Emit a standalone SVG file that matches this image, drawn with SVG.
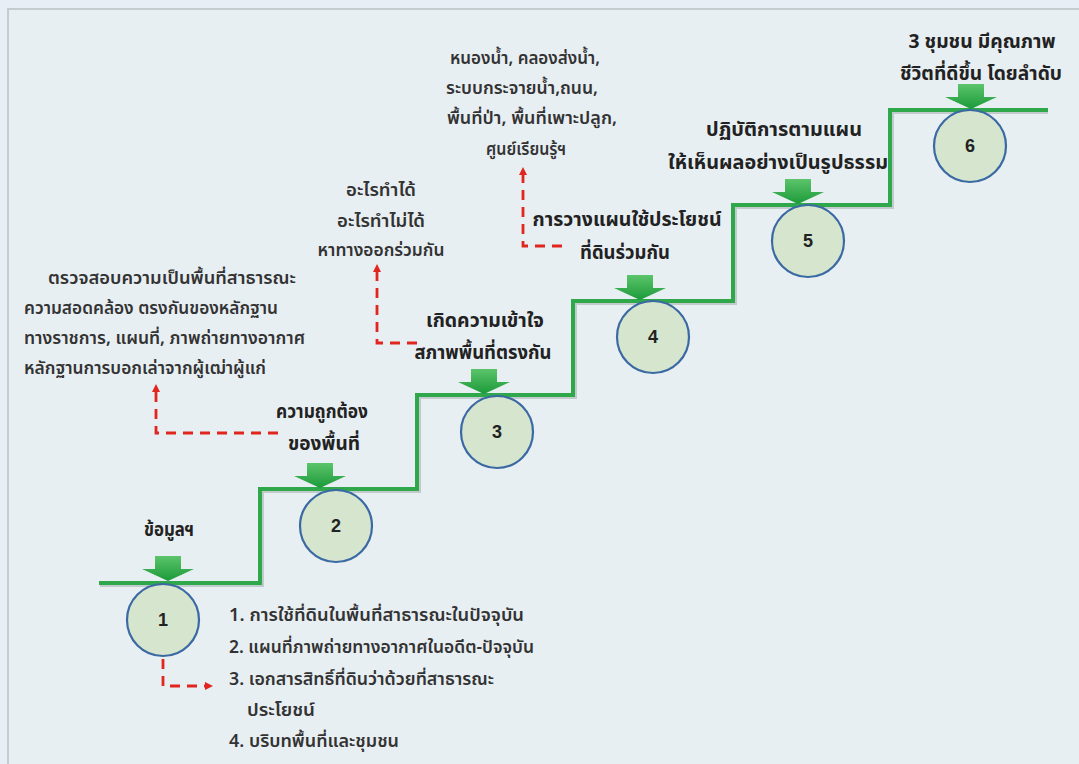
<svg xmlns="http://www.w3.org/2000/svg" xmlns:xlink="http://www.w3.org/1999/xlink" width="1079" height="764" viewBox="0 0 1079 764">
<style>
text{font-family:"Noto Sans Thai","Noto Sans","DejaVu Sans",sans-serif}
.lbl{font-weight:bold;font-size:19px;fill:#222;text-anchor:middle}
.ann{font-weight:600;font-size:17px;fill:#333}
.mid{text-anchor:middle}
.num{font-family:"Liberation Sans",Arial,sans-serif;font-weight:bold;font-size:18px;fill:#222;text-anchor:middle}
.circ{fill:#d6e5cd;stroke:#3a69a3;stroke-width:2.2}
.step{fill:none;stroke:#2fa84b;stroke-width:4}
.stepsh{fill:none;stroke:#7a8a80;stroke-opacity:0.35;stroke-width:4}
.dash{fill:none;stroke:#e0261f;stroke-width:2.8;stroke-dasharray:10 7}
.garr{fill:url(#gg)}
</style>
<defs>
<linearGradient id="gg" x1="0" y1="0" x2="0" y2="1">
<stop offset="0" stop-color="#5cc46a"/>
<stop offset="1" stop-color="#1b9a3a"/>
</linearGradient>
<path id="ga" d="M-13,-25 H13 V-12 H26 L0,0 L-26,-12 H-13 Z"/>
<marker id="ra" markerUnits="userSpaceOnUse" markerWidth="10" markerHeight="10" refX="0" refY="4" orient="auto">
<path d="M0,0 L8,4 L0,8 Z" fill="#e0261f"/>
</marker>
</defs>
<rect width="1079" height="764" fill="#e8eef6"/>
<rect x="8" y="9" width="1080" height="760" fill="#e8eff3" stroke="#c5cbcf" stroke-width="2"/>

<g id="steps">
<path class="stepsh" d="M100,585 H262 V491 H419 V397 H575 V303 H735 V207 H892 V112 H1048"/>
<path class="step" d="M99,583 H260 V489 H417 V395 H573 V301 H733 V205 H890 V110 H1048"/>
</g>

<g id="connectors">
<path class="dash" d="M163,659 V686 H205" marker-end="url(#ra)"/>
<path class="dash" d="M278,433 H156 V392" marker-end="url(#ra)"/>
<path class="dash" d="M417,343 H377 V272" marker-end="url(#ra)"/>
<path class="dash" d="M562,246 H523 V175" marker-end="url(#ra)"/>
</g>

<g id="node1">
<circle class="circ" cx="163" cy="620" r="36"/>
<text class="num" x="163" y="626">1</text>
<use xlink:href="#ga" href="#ga" class="garr" x="168" y="581"/>
<text class="lbl" x="169" y="536" textLength="50" lengthAdjust="spacingAndGlyphs">ข้อมูลฯ</text>
</g>
<g id="node2">
<circle class="circ" cx="336" cy="526" r="36"/>
<text class="num" x="336" y="532">2</text>
<use xlink:href="#ga" href="#ga" class="garr" x="320" y="488"/>
<text class="lbl" x="322" y="418" textLength="92" lengthAdjust="spacingAndGlyphs">ความถูกต้อง</text>
<text class="lbl" x="324" y="450" textLength="72" lengthAdjust="spacingAndGlyphs">ของพื้นที่</text>
</g>
<g id="node3">
<circle class="circ" cx="497" cy="432" r="36"/>
<text class="num" x="497" y="438">3</text>
<use xlink:href="#ga" href="#ga" class="garr" x="484" y="394"/>
<text class="lbl" x="485" y="327" textLength="118" lengthAdjust="spacingAndGlyphs">เกิดความเข้าใจ</text>
<text class="lbl" x="483" y="359" textLength="137" lengthAdjust="spacingAndGlyphs">สภาพพื้นที่ตรงกัน</text>
</g>
<g id="node4">
<circle class="circ" cx="653" cy="337" r="36"/>
<text class="num" x="653" y="343">4</text>
<use xlink:href="#ga" href="#ga" class="garr" x="640" y="300"/>
<text class="lbl" x="627" y="226" textLength="189" lengthAdjust="spacingAndGlyphs">การวางแผนใช้ประโยชน์</text>
<text class="lbl" x="625" y="259" textLength="90" lengthAdjust="spacingAndGlyphs">ที่ดินร่วมกัน</text>
</g>
<g id="node5">
<circle class="circ" cx="808" cy="241" r="36"/>
<text class="num" x="808" y="247">5</text>
<use xlink:href="#ga" href="#ga" class="garr" x="798" y="204"/>
<text class="lbl" x="784" y="136" textLength="156" lengthAdjust="spacingAndGlyphs">ปฏิบัติการตามแผน</text>
<text class="lbl" x="778" y="169" textLength="220" lengthAdjust="spacingAndGlyphs">ให้เห็นผลอย่างเป็นรูปธรรม</text>
</g>
<g id="node6">
<circle class="circ" cx="970" cy="146" r="36"/>
<text class="num" x="970" y="152">6</text>
<use xlink:href="#ga" href="#ga" class="garr" x="971" y="109"/>
<text class="lbl" x="982" y="48" textLength="147" lengthAdjust="spacingAndGlyphs">3 ชุมชน มีคุณภาพ</text>
<text class="lbl" x="981" y="80" textLength="162" lengthAdjust="spacingAndGlyphs">ชีวิตที่ดีขึ้น โดยลำดับ</text>
</g>

<g id="note1">
<text class="ann" x="229" y="621" textLength="295" lengthAdjust="spacingAndGlyphs">1. การใช้ที่ดินในพื้นที่สาธารณะในปัจจุบัน</text>
<text class="ann" x="229" y="653" textLength="305" lengthAdjust="spacingAndGlyphs">2. แผนที่ภาพถ่ายทางอากาศในอดีต-ปัจจุบัน</text>
<text class="ann" x="229" y="685" textLength="265" lengthAdjust="spacingAndGlyphs">3. เอกสารสิทธิ์ที่ดินว่าด้วยที่สาธารณะ</text>
<text class="ann" x="247" y="716" textLength="68" lengthAdjust="spacingAndGlyphs">ประโยชน์</text>
<text class="ann" x="229" y="747" textLength="170" lengthAdjust="spacingAndGlyphs">4. บริบทพื้นที่และชุมชน</text>
</g>
<g id="note2">
<text class="ann" x="48" y="284" textLength="248" lengthAdjust="spacingAndGlyphs">ตรวจสอบความเป็นพื้นที่สาธารณะ</text>
<text class="ann" x="24" y="314" textLength="254" lengthAdjust="spacingAndGlyphs">ความสอดคล้อง ตรงกันของหลักฐาน</text>
<text class="ann" x="24" y="344" textLength="281" lengthAdjust="spacingAndGlyphs">ทางราชการ, แผนที่, ภาพถ่ายทางอากาศ</text>
<text class="ann" x="24" y="374" textLength="242" lengthAdjust="spacingAndGlyphs">หลักฐานการบอกเล่าจากผู้เฒ่าผู้แก่</text>
</g>
<g id="note3">
<text class="ann mid" x="381" y="196" textLength="70" lengthAdjust="spacingAndGlyphs">อะไรทำได้</text>
<text class="ann mid" x="381" y="227" textLength="88" lengthAdjust="spacingAndGlyphs">อะไรทำไม่ได้</text>
<text class="ann mid" x="381" y="256" textLength="127" lengthAdjust="spacingAndGlyphs">หาทางออกร่วมกัน</text>
</g>
<g id="note4">
<text class="ann mid" x="525" y="64" textLength="150" lengthAdjust="spacingAndGlyphs">หนองน้ำ, คลองส่งน้ำ,</text>
<text class="ann mid" x="522" y="94" textLength="152" lengthAdjust="spacingAndGlyphs">ระบบกระจายน้ำ,ถนน,</text>
<text class="ann mid" x="532" y="124" textLength="170" lengthAdjust="spacingAndGlyphs">พื้นที่ป่า, พื้นที่เพาะปลูก,</text>
<text class="ann mid" x="526" y="155" textLength="80" lengthAdjust="spacingAndGlyphs">ศูนย์เรียนรู้ฯ</text>
</g>
</svg>
